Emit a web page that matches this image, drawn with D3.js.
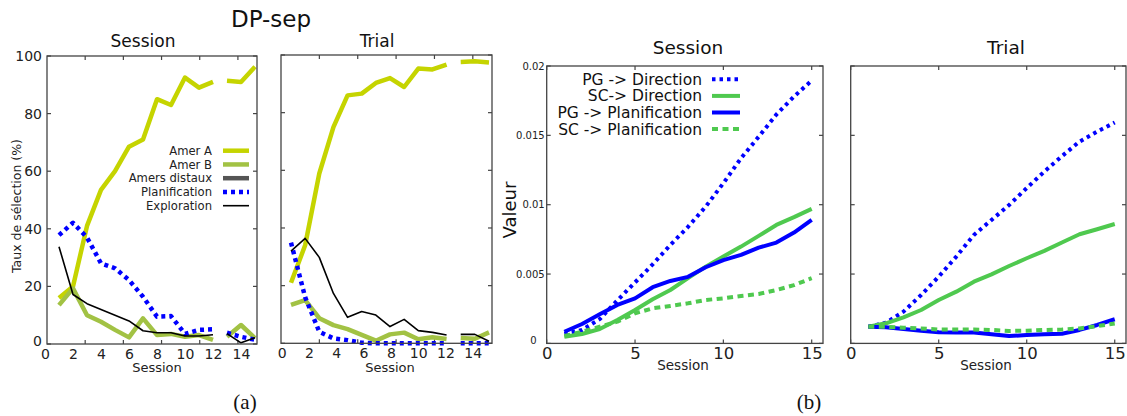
<!DOCTYPE html>
<html>
<head>
<meta charset="utf-8">
<script src="https://cdn.jsdelivr.net/npm/d3@7"></script>
<style>
  body { margin: 0; background: #fff; }
  svg { display: block; font-family: "DejaVu Sans", sans-serif; }
</style>
</head>
<body>
<svg width="1127" height="416"></svg>
<script>
// ---- data ----
const sessions = [1, 2, 3, 4, 5, 6, 7, 8, 9, 10, 11, 12, 13, 14, 15];
const xLabelsA = [0, 2, 4, 6, 8, 10, 12, 14];
const yTicksA = [0, 20, 40, 60, 80, 100];
const xTicksB = [0, 5, 10, 15];
const yTicksB = [0, 0.005, 0.01, 0.015, 0.02];
const yTickLabelsB = ['0', '0.005', '0.01', '0.015', '0.02'];

// (a) Session, % of selection
const sessAmerA = [16, 20, 41, 53.5, 60, 68.5, 71, 85, 83, 92.5, 89, 91, 91.4, 91, 96.3];
const sessAmerB = [13.5, 19.3, 10, 7.7, 4.9, 2.3, 8.9, 3.1, 3.5, 2.5, 3.1, 1.4, 2.5, 6.6, 2];
const sessPlanif = [37.8, 42.1, 37, 28, 26.3, 22.2, 16.4, 9.5, 9.7, 3.5, 4.9, 5.1, 3.9, 2.5, 1.5];
const sessExplo = [33.8, 17.2, 14, 12, 10, 8, 4.6, 3.9, 3.9, 2.8, 2.8, 3.2, 3.6, 0.4, 2.2];

// (a) Trial
const trialAmerA = [21, 34, 58.9, 75, 86, 86.6, 90.3, 92, 88.9, 95.3, 95, 96.7, 97.6, 97.8, 97.4];
const trialAmerB = [13.3, 15, 8.7, 6.3, 4.9, 2.9, 0.9, 3.1, 3.7, 1.4, 2.1, 1.5, 1.8, 1.6, 3.8];
const trialPlanif = [34.9, 16, 4, 1.7, 1.1, 0.2, 0, 0, 0, 0, 0, 0, 0, 0, 0];
const trialExplo = [32, 36.4, 29.8, 17.3, 9, 11, 9.8, 5.8, 8.3, 4.4, 3.8, 2.9, 3.1, 3.1, 0.7];

// (b) Session, values
const sessPGDir = [0.00068, 0.00097, 0.00175, 0.0031, 0.0044, 0.0057, 0.0071, 0.0084, 0.00986, 0.01155, 0.01335, 0.0149, 0.0165, 0.0178, 0.01895];
const sessSCDir = [0.00048, 0.00068, 0.00104, 0.00169, 0.00241, 0.00318, 0.00385, 0.0047, 0.00553, 0.00626, 0.00698, 0.00775, 0.00854, 0.0091, 0.0097];
const sessPGPlan = [0.00084, 0.0014, 0.0021, 0.00277, 0.00325, 0.00405, 0.0045, 0.0048, 0.00549, 0.006, 0.00638, 0.0069, 0.00727, 0.00799, 0.0089];
const sessSCPlan = [0.00053, 0.00084, 0.0012, 0.00157, 0.00217, 0.00253, 0.0027, 0.00289, 0.00313, 0.00325, 0.00342, 0.00356, 0.00385, 0.0042, 0.0047];

// (b) Trial
const trialPGDir = [0.0012, 0.00149, 0.00229, 0.00349, 0.00481, 0.00626, 0.00782, 0.0089, 0.00998, 0.0112, 0.01239, 0.0135, 0.01455, 0.01527, 0.01592];
const trialSCDir = [0.0012, 0.00145, 0.00188, 0.00241, 0.00313, 0.00373, 0.00445, 0.00498, 0.00558, 0.00614, 0.00667, 0.00727, 0.00787, 0.00823, 0.00861];
const trialPGPlan = [0.0012, 0.00116, 0.00104, 0.00092, 0.0008, 0.00078, 0.00078, 0.00066, 0.00053, 0.0006, 0.00066, 0.0007, 0.00097, 0.00133, 0.00174];
const trialSCPlan = [0.0012, 0.0012, 0.00113, 0.00108, 0.001, 0.001, 0.001, 0.00097, 0.0009, 0.00092, 0.00097, 0.001, 0.00108, 0.00125, 0.00144];

// ---- styles ----
const styleA = {
    amerA: { name: 'Amer A', color: '#c5d400', width: 4.5, dash: null },
    amerB: { name: 'Amer B', color: '#a2c244', width: 4.5, dash: null },
    distaux: { name: 'Amers distaux', color: '#555555', width: 4.5, dash: null },
    planif: { name: 'Planification', color: '#0000ff', width: 4.5, dash: '4,4' },
    explo: { name: 'Exploration', color: '#000000', width: 1.6, dash: null }
};
const styleB = {
    pgDir: { name: 'PG -> Direction', color: '#0000ff', width: 4, dash: '3.5,4' },
    scDir: { name: 'SC-> Direction', color: '#4fc94f', width: 4, dash: null },
    pgPlan: { name: 'PG -> Planification', color: '#0000ff', width: 4, dash: null },
    scPlan: { name: 'SC -> Planification', color: '#4fc94f', width: 4, dash: '6,4.5' }
};

const svg = d3.select('svg');
const frameColor = '#444';

// segments drawn in the (a) panels: sessions 1-12 and 13-15
const segmentsA = [[0, 12], [12, 15]];

const drawLine = (g, x, y, values, st, segments) => {
    const line = d3.line()
        .x(d => x(d.s))
        .y(d => y(d.v));
    const pts = sessions.map((s, i) => ({ s, v: values[i] }));
    segments.forEach(([a, b]) => {
        g.append('path')
            .attr('d', line(pts.slice(a, b)))
            .attr('fill', 'none')
            .attr('stroke', st.color)
            .attr('stroke-width', st.width)
            .attr('stroke-dasharray', st.dash)
            .attr('stroke-linejoin', 'round');
    });
};

const drawFrame = (g, l, r, t, b) => {
    g.append('rect')
        .attr('x', l).attr('y', t)
        .attr('width', r - l).attr('height', b - t)
        .attr('fill', 'none')
        .attr('stroke', frameColor)
        .attr('stroke-width', 1.3);
};

const tickMark = (g, x1, y1, x2, y2) => {
    g.append('line').attr('x1', x1).attr('y1', y1).attr('x2', x2).attr('y2', y2)
        .attr('stroke', frameColor).attr('stroke-width', 1.2);
};

// ---- panel (a) ----
const panelA = (cfg) => {
    const g = svg.append('g');
    const { left, right, top, bottom } = cfg;
    const x = d3.scaleLinear().domain([1, 15]).range(cfg.dataRange);
    const xl = d3.scaleLinear().domain([0, 14]).range(cfg.labelRange);
    const y = d3.scaleLinear().domain([0, 100]).range([bottom, top]);
    const xf = d3.scaleLinear().domain([0, 5.5]).range([left, right]);

    g.append('g').attr('transform', `translate(0,${bottom})`)
        .call(d3.axisBottom(xl).tickValues(xLabelsA).tickSize(0).tickPadding(5))
        .call(a => a.select('.domain').remove())
        .selectAll('text')
        .attr('font-size', 14).attr('fill', '#222')
        .attr('font-family', '"DejaVu Sans", sans-serif');

    // frame tick marks
    xf.ticks(5).filter(v => v > 0).forEach(v => {
        tickMark(g, xf(v), top, xf(v), top + 4);
        tickMark(g, xf(v), bottom, xf(v), bottom - 4);
    });
    yTicksA.forEach(v => {
        tickMark(g, left, y(v), left + 4, y(v));
        tickMark(g, right, y(v), right - 4, y(v));
    });
    if (cfg.yLabels) {
        g.append('g').attr('transform', `translate(${left},0)`)
            .call(d3.axisLeft(y).tickValues(yTicksA).tickSize(0).tickPadding(5))
            .call(a => a.select('.domain').remove())
            .selectAll('text')
            .attr('font-size', 14).attr('fill', '#222')
            .attr('font-family', '"DejaVu Sans", sans-serif')
            .attr('dy', d => d === 0 ? '0.1em' : '0.32em');
    }

    const series = cfg.series;
    drawLine(g, x, y, series.amerA, styleA.amerA, segmentsA);
    drawLine(g, x, y, series.amerB, styleA.amerB, segmentsA);
    drawLine(g, x, y, series.planif, styleA.planif, segmentsA);
    drawLine(g, x, y, series.explo, styleA.explo, segmentsA);

    drawFrame(g, left, right, top, bottom);

    g.append('text').text(cfg.title)
        .attr('x', cfg.titleX).attr('y', 47)
        .attr('text-anchor', 'middle').attr('font-size', 17).attr('fill', '#111');
    g.append('text').text('Session')
        .attr('x', cfg.xLabelX).attr('y', 372)
        .attr('text-anchor', 'middle').attr('font-size', 13).attr('fill', '#222');
    return g;
};

panelA({
    left: 47, right: 257, top: 56, bottom: 344,
    dataRange: [59, 255], labelRange: [45, 241],
    yLabels: true, title: 'Session', titleX: 143, xLabelX: 157,
    series: { amerA: sessAmerA, amerB: sessAmerB, planif: sessPlanif, explo: sessExplo }
});
panelA({
    left: 281, right: 492, top: 55, bottom: 343.3,
    dataRange: [291, 489], labelRange: [281.7, 472.7],
    yLabels: false, title: 'Trial', titleX: 377, xLabelX: 390,
    series: { amerA: trialAmerA, amerB: trialAmerB, planif: trialPlanif, explo: trialExplo }
});

// legend (a)
const legA = svg.append('g').attr('font-size', 11.6).attr('fill', '#222');
Object.values(styleA).forEach((st, i) => {
    const yy = 150.7 + i * 13.75;
    legA.append('text').text(st.name)
        .attr('x', 212).attr('y', yy).attr('dy', '0.36em')
        .attr('text-anchor', 'end');
    legA.append('line')
        .attr('x1', 223).attr('x2', 249).attr('y1', yy).attr('y2', yy)
        .attr('stroke', st.color).attr('stroke-width', st.width)
        .attr('stroke-dasharray', st.dash);
});

svg.append('text').text('DP-sep')
    .attr('x', 271).attr('y', 27)
    .attr('text-anchor', 'middle').attr('font-size', 23).attr('fill', '#111');
svg.append('text').text('Taux de sélection (%)')
    .attr('transform', 'translate(21,206) rotate(-90)')
    .attr('text-anchor', 'middle').attr('font-size', 12.5).attr('fill', '#222');

// ---- panel (b) ----
const panelB = (cfg) => {
    const g = svg.append('g');
    const { left, right, top, bottom } = cfg;
    const x = d3.scaleLinear().domain([0, cfg.xMax]).range([left, right]);
    const y = d3.scaleLinear().domain([0, 0.02]).range([bottom, top]);

    g.append('g').attr('transform', `translate(0,${bottom})`)
        .call(d3.axisBottom(x).tickValues(xTicksB).tickSize(0).tickPadding(4))
        .call(a => a.select('.domain').remove())
        .selectAll('text')
        .attr('font-size', 16.5).attr('fill', '#222')
        .attr('font-family', '"DejaVu Sans", sans-serif');

    xTicksB.forEach(v => {
        tickMark(g, x(v), top, x(v), top + 4);
        tickMark(g, x(v), bottom, x(v), bottom - 4);
    });
    yTicksB.forEach(v => {
        tickMark(g, left, y(v), left + 4, y(v));
        tickMark(g, right, y(v), right - 4, y(v));
    });
    if (cfg.yLabels) {
        g.append('g').attr('transform', `translate(${left},0)`)
            .call(d3.axisLeft(y).tickValues(yTicksB)
                .tickFormat((d, i) => yTickLabelsB[i]).tickSize(0).tickPadding(2))
            .call(a => a.select('.domain').remove())
            .selectAll('text')
            .attr('font-size', 10).attr('fill', '#222')
            .attr('font-family', '"DejaVu Sans", sans-serif')
            .attr('dx', d => d === 0 ? -8 : 0)
            .attr('dy', d => d === 0 ? '0.05em' : '0.32em');
    }

    const segAll = [[0, 15]];
    const series = cfg.series;
    drawLine(g, x, y, series.pgDir, styleB.pgDir, segAll);
    drawLine(g, x, y, series.scDir, styleB.scDir, segAll);
    drawLine(g, x, y, series.pgPlan, styleB.pgPlan, segAll);
    drawLine(g, x, y, series.scPlan, styleB.scPlan, segAll);

    drawFrame(g, left, right, top, bottom);

    g.append('text').text(cfg.title)
        .attr('x', cfg.titleX).attr('y', 54)
        .attr('text-anchor', 'middle').attr('font-size', 18.5).attr('fill', '#111');
    g.append('text').text('Session')
        .attr('x', cfg.xLabelX).attr('y', 370)
        .attr('text-anchor', 'middle').attr('font-size', 13.5).attr('fill', '#222');
};

panelB({
    left: 546.7, right: 823, top: 66, bottom: 343.4, xMax: 15.64,
    yLabels: true, title: 'Session', titleX: 688, xLabelX: 683,
    series: { pgDir: sessPGDir, scDir: sessSCDir, pgPlan: sessPGPlan, scPlan: sessSCPlan }
});
panelB({
    left: 850.7, right: 1126, top: 66, bottom: 343.4, xMax: 15.64,
    yLabels: false, title: 'Trial', titleX: 1006, xLabelX: 986,
    series: { pgDir: trialPGDir, scDir: trialSCDir, pgPlan: trialPGPlan, scPlan: trialSCPlan }
});

// legend (b)
const legB = svg.append('g').attr('font-size', 15.5).attr('fill', '#111');
Object.values(styleB).forEach((st, i) => {
    const yy = 79.3 + i * 16.6;
    legB.append('text').text(st.name)
        .attr('x', 702).attr('y', yy).attr('dy', '0.36em')
        .attr('text-anchor', 'end');
    legB.append('line')
        .attr('x1', 712).attr('x2', 740).attr('y1', yy).attr('y2', yy)
        .attr('stroke', st.color).attr('stroke-width', st.width)
        .attr('stroke-dasharray', st.dash);
});

svg.append('text').text('Valeur')
    .attr('transform', 'translate(516,210) rotate(-90)')
    .attr('text-anchor', 'middle').attr('font-size', 18).attr('fill', '#111');

// captions
svg.append('text').text('(a)')
    .attr('x', 245).attr('y', 409)
    .attr('text-anchor', 'middle').attr('font-size', 21)
    .attr('font-family', '"Liberation Serif", serif').attr('fill', '#111');
svg.append('text').text('(b)')
    .attr('x', 809).attr('y', 409)
    .attr('text-anchor', 'middle').attr('font-size', 21)
    .attr('font-family', '"Liberation Serif", serif').attr('fill', '#111');
</script>
</body>
</html>
